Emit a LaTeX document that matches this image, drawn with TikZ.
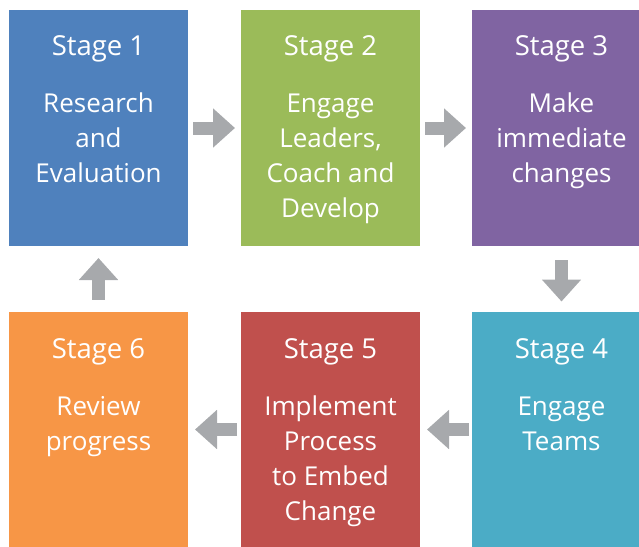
\documentclass[tikz,border=0pt]{standalone}
\usepackage{fontspec}
\setmainfont{Open Sans}
\usepackage{xcolor}
\usetikzlibrary{arrows.meta}
\definecolor{stageblue}{HTML}{4F81BD}
\definecolor{stagegreen}{HTML}{9BBB59}
\definecolor{stagepurple}{HTML}{8064A2}
\definecolor{stageteal}{HTML}{4BACC6}
\definecolor{stagered}{HTML}{C0504D}
\definecolor{stageorange}{HTML}{F79646}
\definecolor{flowgray}{HTML}{A7A9AC}

\begin{document}
\begin{tikzpicture}[x=1pt, y=-1pt,
	box/.style={shape=rectangle, minimum width=179pt, minimum height=236pt, inner sep=0pt, outer sep=0pt},
	title/.style={text=white, font=\fontsize{27.5}{35}\selectfont, anchor=base, inner sep=0pt},
	body/.style={text=white, font=\fontsize{26}{35}\selectfont, align=center, anchor=base, inner sep=0pt},
	flow/.style={draw=flowgray, line width=13pt, -{Triangle[width=38pt, length=22pt]}, shorten <=5pt, shorten >=6pt}]
	\useasboundingbox (0, 0) rectangle (639, 546);

	\node [box, fill=stageblue] (s1) at (98.5, 128) {};
	\node [box, fill=stagegreen] (s2) at (330.5, 128) {};
	\node [box, fill=stagepurple] (s3) at (561.5, 128) {};

	\node [box, fill=stageorange] (s6) at (98.5, 429.5) {};
	\node [box, fill=stagered] (s5) at (330.5, 429.5) {};
	\node [box, fill=stageteal] (s4) at (561.5, 429.5) {};

	\node [title] (t1) at (98.5, 55) {Stage 1};
	\node [title] (t2) at (330.5, 55) {Stage 2};
	\node [title] (t3) at (561.5, 55) {Stage 3};
	\node [title] (t4) at (561.5, 358) {Stage 4};
	\node [title] (t5) at (330.5, 358) {Stage 5};
	\node [title] (t6) at (98.5, 358) {Stage 6};

	% base anchor sits on the last line
	\node [body] (b1) at (98.5, 182) {Research\\and\\Evaluation};
	\node [body] (b2) at (330.5, 217) {Engage\\Leaders,\\Coach and\\Develop};
	\node [body] (b3) at (561.5, 182) {Make\\immediate\\changes};
	\node [body] (b4) at (561.5, 450) {Engage\\Teams};
	\node [body] (b5) at (330.5, 520) {Implement\\Process\\to Embed\\Change};
	\node [body] (b6) at (98.5, 450) {Review\\progress};

	\draw [flow] (s1) to (s2);
	\draw [flow] (s2) to (s3);
	\draw [flow, shorten <=14pt, shorten >=10pt] (s3) to (s4);
	\draw [flow, shorten <=3pt, shorten >=7pt] (s4) to (s5);
	\draw [flow, shorten <=4pt, shorten >=7pt] (s5) to (s6);
	\draw [flow, shorten <=12pt, shorten >=12pt] (s6) to (s1);

\end{tikzpicture}
\end{document}
